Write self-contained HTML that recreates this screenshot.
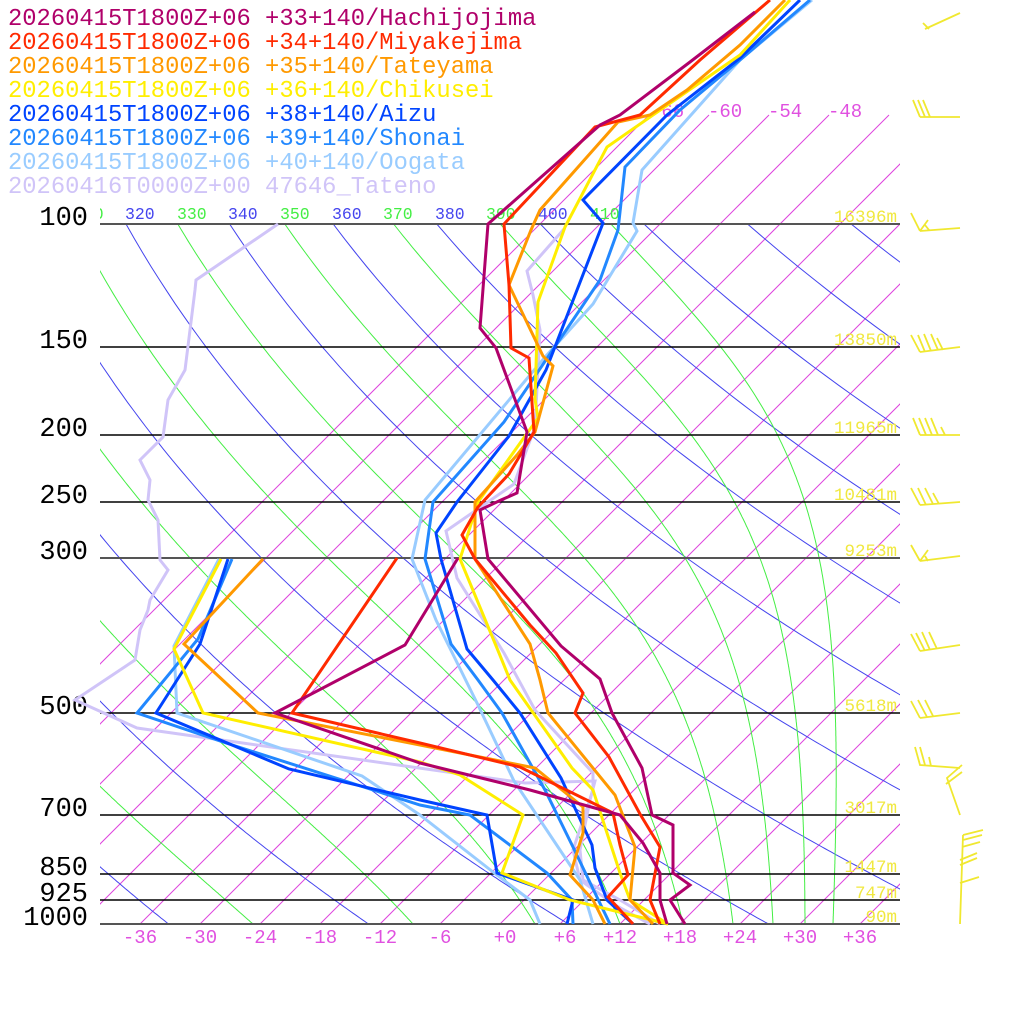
<!DOCTYPE html>
<html><head><meta charset="utf-8">
<style>
html,body{margin:0;padding:0;background:#fff;}
svg{display:block;}
text{font-family:"Liberation Mono",monospace;}
</style></head>
<body>
<svg id="s" width="1024" height="1024" viewBox="0 0 1024 1024" xmlns="http://www.w3.org/2000/svg">
<defs>
<clipPath id="cp"><rect x="100" y="224" width="800" height="700"/></clipPath>
<clipPath id="ci"><rect x="100" y="100" width="800" height="824"/></clipPath>
<clipPath id="ct"><rect x="100" y="195" width="800" height="30"/></clipPath>
</defs>
<rect width="1024" height="1024" fill="#fff"/>
<g id="grid"></g>
<g id="hl" stroke="#000" stroke-width="1.5">
<line x1="100" y1="224" x2="900" y2="224" stroke="#555" stroke-width="2"/>
<line x1="100" y1="347" x2="900" y2="347"/>
<line x1="100" y1="435" x2="900" y2="435"/>
<line x1="100" y1="502" x2="900" y2="502"/>
<line x1="100" y1="558" x2="900" y2="558" stroke="#555" stroke-width="2"/>
<line x1="100" y1="713" x2="900" y2="713"/>
<line x1="100" y1="815" x2="900" y2="815"/>
<line x1="100" y1="874" x2="900" y2="874"/>
<line x1="100" y1="900" x2="900" y2="900"/>
<line x1="100" y1="924" x2="900" y2="924" stroke="#555" stroke-width="2"/>
</g>
<g font-size="27" fill="#000" text-anchor="end">
<text x="88" y="225">100</text><text x="88" y="348">150</text><text x="88" y="436">200</text>
<text x="88" y="503">250</text><text x="88" y="559">300</text><text x="88" y="714">500</text>
<text x="88" y="816">700</text><text x="88" y="875">850</text><text x="88" y="901">925</text>
<text x="88" y="925">1000</text>
</g>
<g font-size="17.5" fill="#f0e840" text-anchor="end">
<text x="897" y="222">16396m</text><text x="897" y="345">13850m</text><text x="897" y="433">11965m</text>
<text x="897" y="500">10481m</text><text x="897" y="556">9253m</text><text x="897" y="711">5618m</text>
<text x="897" y="813">3017m</text><text x="897" y="872">1447m</text><text x="897" y="898">747m</text>
<text x="897" y="922">90m</text>
</g>
<g font-size="19" fill="#e050e0" text-anchor="middle">
<text x="140" y="943">-36</text><text x="200" y="943">-30</text><text x="260" y="943">-24</text>
<text x="320" y="943">-18</text><text x="380" y="943">-12</text><text x="440" y="943">-6</text>
<text x="505" y="943">+0</text><text x="565" y="943">+6</text><text x="620" y="943">+12</text>
<text x="680" y="943">+18</text><text x="740" y="943">+24</text><text x="800" y="943">+30</text>
<text x="860" y="943">+36</text>
</g>
<g font-size="19" fill="#e050e0">
<text x="650" y="117">-66</text><text x="708" y="117">-60</text><text x="768" y="117">-54</text><text x="828" y="117">-48</text>
</g>
<g font-size="16.5" clip-path="url(#ct)">
<text x="74" y="219" fill="#44ee44">310</text>
<text x="125" y="219" fill="#4444ee">320</text>
<text x="177" y="219" fill="#44ee44">330</text>
<text x="228" y="219" fill="#4444ee">340</text>
<text x="280" y="219" fill="#44ee44">350</text>
<text x="332" y="219" fill="#4444ee">360</text>
<text x="383" y="219" fill="#44ee44">370</text>
<text x="435" y="219" fill="#4444ee">380</text>
<text x="486" y="219" fill="#44ee44">390</text>
<text x="538" y="219" fill="#4444ee">400</text>
<text x="590" y="219" fill="#44ee44">410</text>
</g>

<g fill="none" stroke-width="3" stroke-linejoin="miter">
<polyline stroke="#d0c4f8" points="278,224 196,280 195,290 185,370 168,400 163,437 140,460 150,480 148,500 158,520 160,560 168,570 150,600 148,610 140,630 135,660 75,700 137,728 525,783 595,781 590,800 580,850 583,880 620,900 660,924"/>
<polyline stroke="#d0c4f8" points="564,229 527,271 533,295 540,330 535,427 514,484 446,531 457,578 504,653 535,710 593,773 593,790 573,850 580,880 615,905 650,924"/>
<polyline stroke="#99ccff" points="812,0 740,60 642,170 633,223 637,231 593,304 546,356 425,500 412,559 436,620 478,705 514,781 560,850 580,880 593,924"/>
<polyline stroke="#99ccff" points="219,559 174,646 177,713 362,776 420,815 493,872 530,900 540,924"/>
<polyline stroke="#2288ff" points="810,0 740,60 680,110 625,167 618,230 600,280 504,422 433,502 425,559 451,644 478,680 502,713 545,790 573,847 595,893 610,924"/>
<polyline stroke="#2288ff" points="232,559 198,639 137,713 226,743 420,805 470,815 547,873 572,900 573,924"/>
<polyline stroke="#0044ff" points="800,0 740,58 667,115 583,200 603,223 546,370 509,436 457,502 436,533 441,559 467,649 493,680 520,713 561,778 592,845 595,868 607,900 633,924"/>
<polyline stroke="#0044ff" points="228,559 200,644 156,713 289,769 420,800 487,815 497,873 573,900 567,924"/>
<polyline stroke="#ffee00" points="790,0 740,55 653,115 607,147 565,227 538,302 535,399 538,418 478,502 460,559 499,653 510,680 572,768 593,790 620,873 630,900 668,924"/>
<polyline stroke="#ffee00" points="221,559 174,649 203,713 420,762 460,775 523,815 502,873 570,900 668,924"/>
<polyline stroke="#ff9900" points="785,0 740,45 687,90 650,115 618,122 540,210 531,230 509,285 543,356 553,366 535,432 517,455 475,502 475,559 530,644 540,680 548,713 615,795 635,847 630,900 653,924"/>
<polyline stroke="#ff9900" points="263,559 184,644 258,713 420,745 535,768 583,807 583,833 570,875 593,900 605,924"/>
<polyline stroke="#ff2a00" points="770,0 700,60 640,115 595,127 504,224 509,285 511,348 529,358 534,432 509,474 478,507 462,535 475,559 530,625 556,653 583,693 575,713 609,757 640,814 660,847 650,900 660,924"/>
<polyline stroke="#ff2a00" points="397,558 292,713 420,743 520,767 613,813 620,845 628,875 608,897 633,924"/>
<polyline stroke="#b0006a" points="755,12 690,62 620,115 600,125 488,224 480,328 496,348 527,432 517,493 501,500 480,510 488,559 561,646 600,679 612,713 642,768 652,815 673,825 673,873 690,885 670,900 685,924"/>
<polyline stroke="#b0006a" points="458,558 405,645 275,713 420,763 530,790 620,815 643,843 660,873 660,900 667,924"/>
</g>

<g fill="none" stroke="#f0e830" stroke-width="1.8">
<path d="M960,13 L925,29 M923,23 L929,29"/>
<path d="M960,117 L920,117 M920,117 L913,100 M925,117 L918,100 M930,117 L923,100"/>
<path d="M960,228 L920,231 M920,231 L911,213 M920,231 L928,220 M929,230 L925,225"/>
<path d="M960,347 L920,352 M920,352 L911,335 M925,352 L918,335 M931,351 L924,334 M938,350 L931,334 M943,350 L937,338"/>
<path d="M960,435 L920,435 M920,435 L913,418 M926,435 L919,418 M932,435 L925,418 M938,435 L931,418 M945,435 L941,427"/>
<path d="M960,502 L920,505 M920,505 L911,488 M926,505 L918,488 M933,504 L925,488 M939,504 L933,493"/>
<path d="M960,556 L920,561 M920,561 L911,545 M920,561 L928,550 M928,561 L925,556"/>
<path d="M960,645 L920,651 M920,651 L911,634 M925,651 L916,633 M930,650 L922,632 M937,649 L929,632"/>
<path d="M960,713 L920,718 M920,718 L911,701 M927,717 L918,700 M933,716 L925,700"/>
<path d="M960,768 L920,765 L915,747 M925,765 L920,747 M931,766 L929,757 M962,765 L947,778 L960,815 M962,772 L946,784"/>
<path d="M960,924 L963,835 M963,835 L983,830 M963,840 L982,835 M962,847 L980,842 M960,860 L977,853 M960,865 L977,858 M960,883 L979,877"/>
</g>

<g font-size="23.8">
<text x="8" y="25" fill="#b0006a">20260415T1800Z+06 +33+140/Hachijojima</text>
<text x="8" y="49" fill="#ff2a00">20260415T1800Z+06 +34+140/Miyakejima</text>
<text x="8" y="73" fill="#ff9900">20260415T1800Z+06 +35+140/Tateyama</text>
<text x="8" y="97" fill="#ffee00">20260415T1800Z+06 +36+140/Chikusei</text>
<text x="8" y="121" fill="#0044ff">20260415T1800Z+06 +38+140/Aizu</text>
<text x="8" y="145" fill="#2288ff">20260415T1800Z+06 +39+140/Shonai</text>
<text x="8" y="169" fill="#99ccff">20260415T1800Z+06 +40+140/Oogata</text>
<text x="8" y="193" fill="#d0c4f8">20260416T0000Z+00 47646_Tateno</text>
</g>
</svg>
<script>
(function(){
var NS="http://www.w3.org/2000/svg";
var g=document.getElementById('grid');
function Y(p){return 924-700*Math.log10(1000/p);}
function X(tc,y){return 500+10*tc+(924-y);}
function pl(pts,col,clip){var e=document.createElementNS(NS,'polyline');e.setAttribute('points',pts.map(function(a){return a[0].toFixed(1)+','+a[1].toFixed(1);}).join(' '));e.setAttribute('fill','none');e.setAttribute('stroke',col);e.setAttribute('stroke-width','1');e.setAttribute('clip-path','url(#'+clip+')');g.appendChild(e);}
for(var T=-66;T<=36;T+=6){pl([[X(T,924),924],[X(T,115),115]],'#dd44dd','ci');}
for(var th=160;th<=500;th+=20){var pts=[];for(var p=1000;p>=99;p-=5){var t=th*Math.pow(p/1000,0.2857)-273.15;var y=Y(p);pts.push([X(t,y),y]);}pl(pts,'#4444ee','cp');}
var Rd=287,cp=1005,L=2.5e6,eps=0.622;
function es(tc){return 6.112*Math.exp(17.67*tc/(tc+243.5));}
function rs(tk,p){var e=es(tk-273.15);return eps*e/(p-e);}
var T0s=[-40,-24.7,-8.7,3.5,12,18.3,23.3,27.3,30.5,33.3];
for(var k=0;k<T0s.length;k++){var tk=T0s[k]+273.15,pts=[];for(var p=1000;p>=100;p-=2){var y=Y(p);pts.push([X(tk-273.15,y),y]);var r=rs(tk,p);var d=(Rd*tk+L*r)/(cp+L*L*r*eps/(Rd*tk*tk))/p;tk-=d*2;}
pl(pts,'#44ee44','cp');}
})();
</script>
</body></html>
